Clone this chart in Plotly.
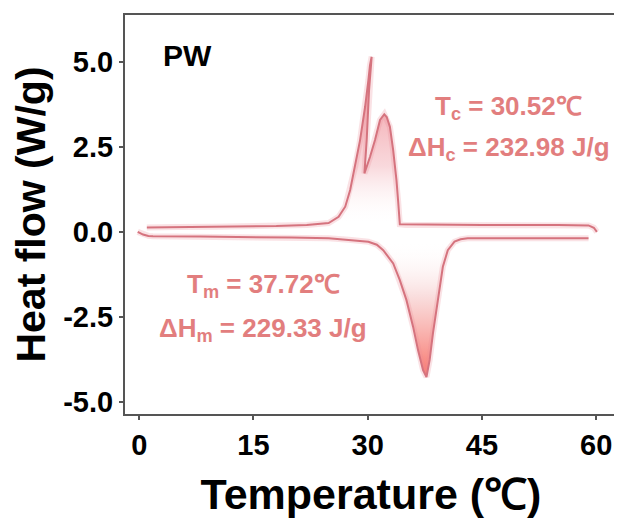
import plotly.graph_objects as go

# ---- data ----
cool_T = [60.1, 59.7, 59.0, 55.0, 45.0, 38.0, 35.0, 34.5, 34.22, 34.0, 33.78, 33.35, 32.92, 32.5,
          32.18, 31.62, 30.96, 30.3, 29.8, 29.57, 29.87, 30.18, 30.52, 30.3, 30.09, 29.66, 29.0,
          28.35, 27.7, 27.05, 26.18, 24.87, 22.0, 18.0, 10.0, 5.0, 1.0]
cool_HF = [0.0, 0.12, 0.19, 0.2, 0.2, 0.2, 0.2, 0.2, 0.22, 0.9, 1.52, 2.40, 3.09, 3.38,
           3.46, 3.29, 2.70, 2.2, 1.85, 1.72, 2.70, 4.17, 5.15, 4.9, 4.46, 3.68, 2.70,
           1.91, 1.23, 0.74, 0.44, 0.26, 0.2, 0.17, 0.15, 0.14, 0.13]

heat_T = [-0.2, 0.5, 1.2, 1.8, 8.0, 14.4, 20.0, 24.87, 27.5, 30.09, 31.2, 32.04, 33.35, 34.22,
          35.09, 35.96, 36.61, 37.27, 37.72, 38.14, 38.57, 39.0, 39.44, 39.87, 40.52, 41.4,
          42.2, 43.13, 50.0, 59.0]
heat_HF = [0.0, -0.08, -0.12, -0.13, -0.14, -0.15, -0.17, -0.19, -0.23, -0.29, -0.38, -0.54,
           -0.93, -1.42, -2.01, -2.79, -3.48, -4.07, -4.27, -3.77, -2.99, -2.30, -1.62, -1.03,
           -0.54, -0.29, -0.22, -0.19, -0.19, -0.19]

x_ticks = [0, 15, 30, 45, 60]
y_ticks = [-5.0, -2.5, 0.0, 2.5, 5.0]
y_ticktext = ["-5.0", "-2.5", "0.0", "2.5", "5.0"]

LINE = "#d5737e"
TEXT = "#e27e7e"
FONT = "Arial, Liberation Sans, sans-serif"

# peak slices for the gradient fills
c0, c1 = cool_T.index(34.22), cool_T.index(24.87)
h0, h1 = heat_T.index(30.09), heat_T.index(42.2)

fig = go.Figure()

fig.add_trace(go.Scatter(
    x=cool_T[c0:c1 + 1], y=cool_HF[c0:c1 + 1], mode="lines", line=dict(width=0),
    fill="toself",
    fillgradient=dict(type="vertical", start=0.2, stop=5.15,
                      colorscale=[[0, "rgba(255,255,255,0)"], [0.35, "rgba(246,200,205,0.7)"],
                                  [1, "rgba(238,120,130,0.9)"]]),
    hoverinfo="skip", showlegend=False))
fig.add_trace(go.Scatter(
    x=heat_T[h0:h1 + 1], y=heat_HF[h0:h1 + 1], mode="lines", line=dict(width=0),
    fill="toself",
    fillgradient=dict(type="vertical", start=-0.25, stop=-4.27,
                      colorscale=[[0, "rgba(255,255,255,0)"], [0.4, "rgba(248,215,215,0.8)"],
                                  [1, "rgba(248,110,100,0.95)"]]),
    hoverinfo="skip", showlegend=False))

for xs, ys in ((cool_T, cool_HF), (heat_T, heat_HF)):
    fig.add_trace(go.Scatter(x=xs, y=ys, mode="lines",
                             line=dict(color="rgba(235,140,150,0.25)", width=6),
                             hoverinfo="skip", showlegend=False))
    fig.add_trace(go.Scatter(x=xs, y=ys, mode="lines",
                             line=dict(color=LINE, width=2), showlegend=False))

ann_font = dict(family=FONT, size=26, color=TEXT, weight="bold")
fig.add_annotation(x=6.35, y=5.2, text="PW", showarrow=False,
                   font=dict(family=FONT, size=30, color="black", weight="bold"))
fig.add_annotation(x=48.5, y=3.66, text="T<sub>c</sub> = 30.52℃", showarrow=False, font=ann_font)
fig.add_annotation(x=48.5, y=2.46, text="ΔH<sub>c</sub> = 232.98 J/g", showarrow=False, font=ann_font)
fig.add_annotation(x=16.3, y=-1.58, text="T<sub>m</sub> = 37.72℃", showarrow=False, font=ann_font)
fig.add_annotation(x=16.3, y=-2.88, text="ΔH<sub>m</sub> = 229.33 J/g", showarrow=False, font=ann_font)

axis_common = dict(showline=True, mirror=True, linecolor="#555555", linewidth=2,
                   ticks="outside", ticklen=4, tickwidth=1.5, tickcolor="#555555",
                   showgrid=False, zeroline=False, automargin=False,
                   tickfont=dict(family=FONT, size=29, color="black", weight="bold"))

fig.update_xaxes(range=[-1.87, 62.74], tickvals=x_ticks,
                 title=dict(text="Temperature (℃)",
                            font=dict(family=FONT, size=43, color="black", weight="bold"),
                            standoff=19),
                 **axis_common)
fig.update_yaxes(range=[-5.36, 6.38], tickvals=y_ticks, ticktext=y_ticktext,
                 title=dict(text="Heat flow (W/g)",
                            font=dict(family=FONT, size=41, color="black", weight="bold"),
                            standoff=20),
                 **axis_common)

# the page body adds an 8 px offset, so the figure is sized to fit the 622x521 window
fig.update_layout(width=614, height=513, margin=dict(l=117, r=5, t=7, b=107),
                  plot_bgcolor="white", paper_bgcolor="white")

fig.write_html("out.html")
